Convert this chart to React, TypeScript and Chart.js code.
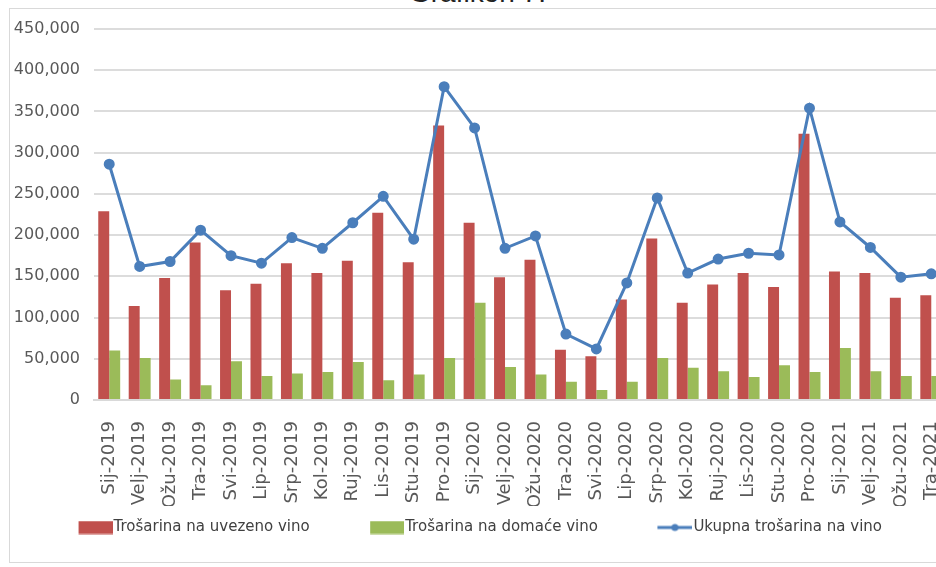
import React, { useEffect, useRef } from 'react';
import { Chart, registerables } from 'chart.js';

Chart.register(...registerables);

const categories = [
  'Sij-2019', 'Velj-2019', 'Ožu-2019', 'Tra-2019', 'Svi-2019', 'Lip-2019', 'Srp-2019', 'Kol-2019',
  'Ruj-2019', 'Lis-2019', 'Stu-2019', 'Pro-2019', 'Sij-2020', 'Velj-2020', 'Ožu-2020', 'Tra-2020',
  'Svi-2020', 'Lip-2020', 'Srp-2020', 'Kol-2020', 'Ruj-2020', 'Lis-2020', 'Stu-2020', 'Pro-2020',
  'Sij-2021', 'Velj-2021', 'Ožu-2021', 'Tra-2021',
];

const importedWine = [
  229000, 114000, 148000, 191000, 133000, 141000, 166000, 154000, 169000, 227000, 167000, 333000,
  215000, 149000, 170000, 61000, 53000, 122000, 196000, 118000, 140000, 154000, 137000, 323000,
  156000, 154000, 124000, 127000,
];

const domesticWine = [
  60000, 51000, 25000, 18000, 47000, 29000, 32000, 34000, 46000, 24000, 31000, 51000,
  118000, 40000, 31000, 22000, 12000, 22000, 51000, 39000, 35000, 28000, 42000, 34000,
  63000, 35000, 29000, 29000,
];

const totalWine = [
  286000, 162000, 168000, 206000, 175000, 166000, 197000, 184000, 215000, 247000, 195000, 380000,
  330000, 184000, 199000, 80000, 62000, 142000, 245000, 154000, 171000, 178000, 176000, 354000,
  216000, 185000, 149000, 153000,
];

const yTicks = [0, 50000, 100000, 150000, 200000, 250000, 300000, 350000, 400000, 450000];

const seriesNames = ['Trošarina na uvezeno vino', 'Trošarina na domaće vino', 'Ukupna trošarina na vino'];

const RED = '#C0504D';
const GREEN = '#9BBB59';
const BLUE = '#4A7EBB';

const LEGEND_BOX = 74;
const IMG_W = LEGEND_BOX + 13;

function makeSwatch(color: string, kind: 'box' | 'line'): HTMLCanvasElement {
  const c = document.createElement('canvas');
  c.width = IMG_W;
  c.height = 14;
  const ctx = c.getContext('2d')!;
  if (kind === 'box') {
    ctx.fillStyle = color;
    ctx.fillRect(IMG_W - 34, 0.5, 34, 13);
  } else {
    ctx.strokeStyle = color;
    ctx.lineWidth = 3;
    ctx.beginPath();
    ctx.moveTo(IMG_W - 35, 7);
    ctx.lineTo(IMG_W, 7);
    ctx.stroke();
    ctx.fillStyle = color;
    ctx.beginPath();
    ctx.arc(IMG_W - 17.5, 7, 3.5, 0, Math.PI * 2);
    ctx.fill();
  }
  return c;
}

export default function App() {
  const ref = useRef<HTMLCanvasElement>(null);

  useEffect(() => {
    if (!ref.current) return;
    const swatches = [makeSwatch(RED, 'box'), makeSwatch(GREEN, 'box'), makeSwatch(BLUE, 'line')];
    const font = 'DejaVu Sans';
    const chart = new Chart(ref.current, {
      data: {
        labels: categories,
        datasets: [
          {
            type: 'bar',
            label: seriesNames[0],
            data: importedWine,
            backgroundColor: RED,
            borderWidth: 0,
            categoryPercentage: 0.72,
            barPercentage: 1.0,
            order: 1,
          },
          {
            type: 'bar',
            label: seriesNames[1],
            data: domesticWine,
            backgroundColor: GREEN,
            borderWidth: 0,
            categoryPercentage: 0.72,
            barPercentage: 1.0,
            order: 1,
          },
          {
            type: 'line',
            label: seriesNames[2],
            data: totalWine,
            borderColor: BLUE,
            backgroundColor: BLUE,
            borderWidth: 3,
            pointRadius: 4,
            pointBackgroundColor: BLUE,
            pointBorderColor: BLUE,
            tension: 0,
            order: 0,
          },
        ],
      } as any,
      options: {
        animation: false,
        responsive: false,
        devicePixelRatio: 1,
        layout: { padding: { top: 29, left: 0, right: 3, bottom: 22 } },
        scales: {
          x: {
            offset: true,
            grid: { display: false },
            border: { display: true, color: '#d9d9d9', width: 2 },
            ticks: {
              autoSkip: false,
              minRotation: 90,
              maxRotation: 90,
              padding: 13,
              color: '#595959',
              font: { family: font, size: 18 },
            },
            afterFit: (s: any) => {
              s.height = 106;
            },
          },
          y: {
            min: 0,
            max: 450000,
            afterBuildTicks: (s: any) => {
              s.ticks = yTicks.map((v) => ({ value: v }));
            },
            grid: { color: '#dcdcdc', lineWidth: 2, drawTicks: false },
            border: { display: false },
            ticks: {
              padding: 14,
              color: '#595959',
              font: { family: font, size: 16 },
              callback: (v: any) => Number(v).toLocaleString('en-US'),
            },
            afterFit: (s: any) => {
              s.width = 143;
            },
          },
        },
        plugins: {
          tooltip: { enabled: false },
          legend: {
            position: 'bottom',
            labels: {
              usePointStyle: true,
              pointStyleWidth: LEGEND_BOX,
              padding: 14,
              color: '#404040',
              font: { family: font, size: 15 },
              sort: (a: any, b: any) => a.datasetIndex - b.datasetIndex,
              generateLabels: (c: any) => {
                const items = (Chart.defaults.plugins.legend.labels as any).generateLabels(c);
                items.forEach((it: any) => {
                  it.pointStyle = swatches[it.datasetIndex];
                  it.lineWidth = 0;
                });
                return items;
              },
            },
          },
        },
      } as any,
    });
    return () => chart.destroy();
  }, []);

  return (
    <div
      style={{
        position: 'fixed',
        left: 0,
        top: 0,
        width: 936,
        height: 567,
        overflow: 'hidden',
        background: '#ffffff',
      }}
    >
      <div
        style={{
          position: 'absolute',
          left: 9,
          top: 8,
          width: 1000,
          height: 555,
          border: '1.5px solid #d9d9d9',
          boxSizing: 'border-box',
        }}
      />
      <div
        style={{
          position: 'absolute',
          left: 0,
          width: 955,
          top: -21,
          textAlign: 'center',
          fontFamily: 'Liberation Sans, Arial, sans-serif',
          fontSize: 28,
          lineHeight: '28px',
          color: '#222',
          whiteSpace: 'nowrap',
        }}
      >
        Grafikon 7.
      </div>
      <canvas
        ref={ref}
        width={1015}
        height={567}
        style={{ position: 'absolute', left: -49, top: 0, width: 1015, height: 567 }}
      />
    </div>
  );
}
